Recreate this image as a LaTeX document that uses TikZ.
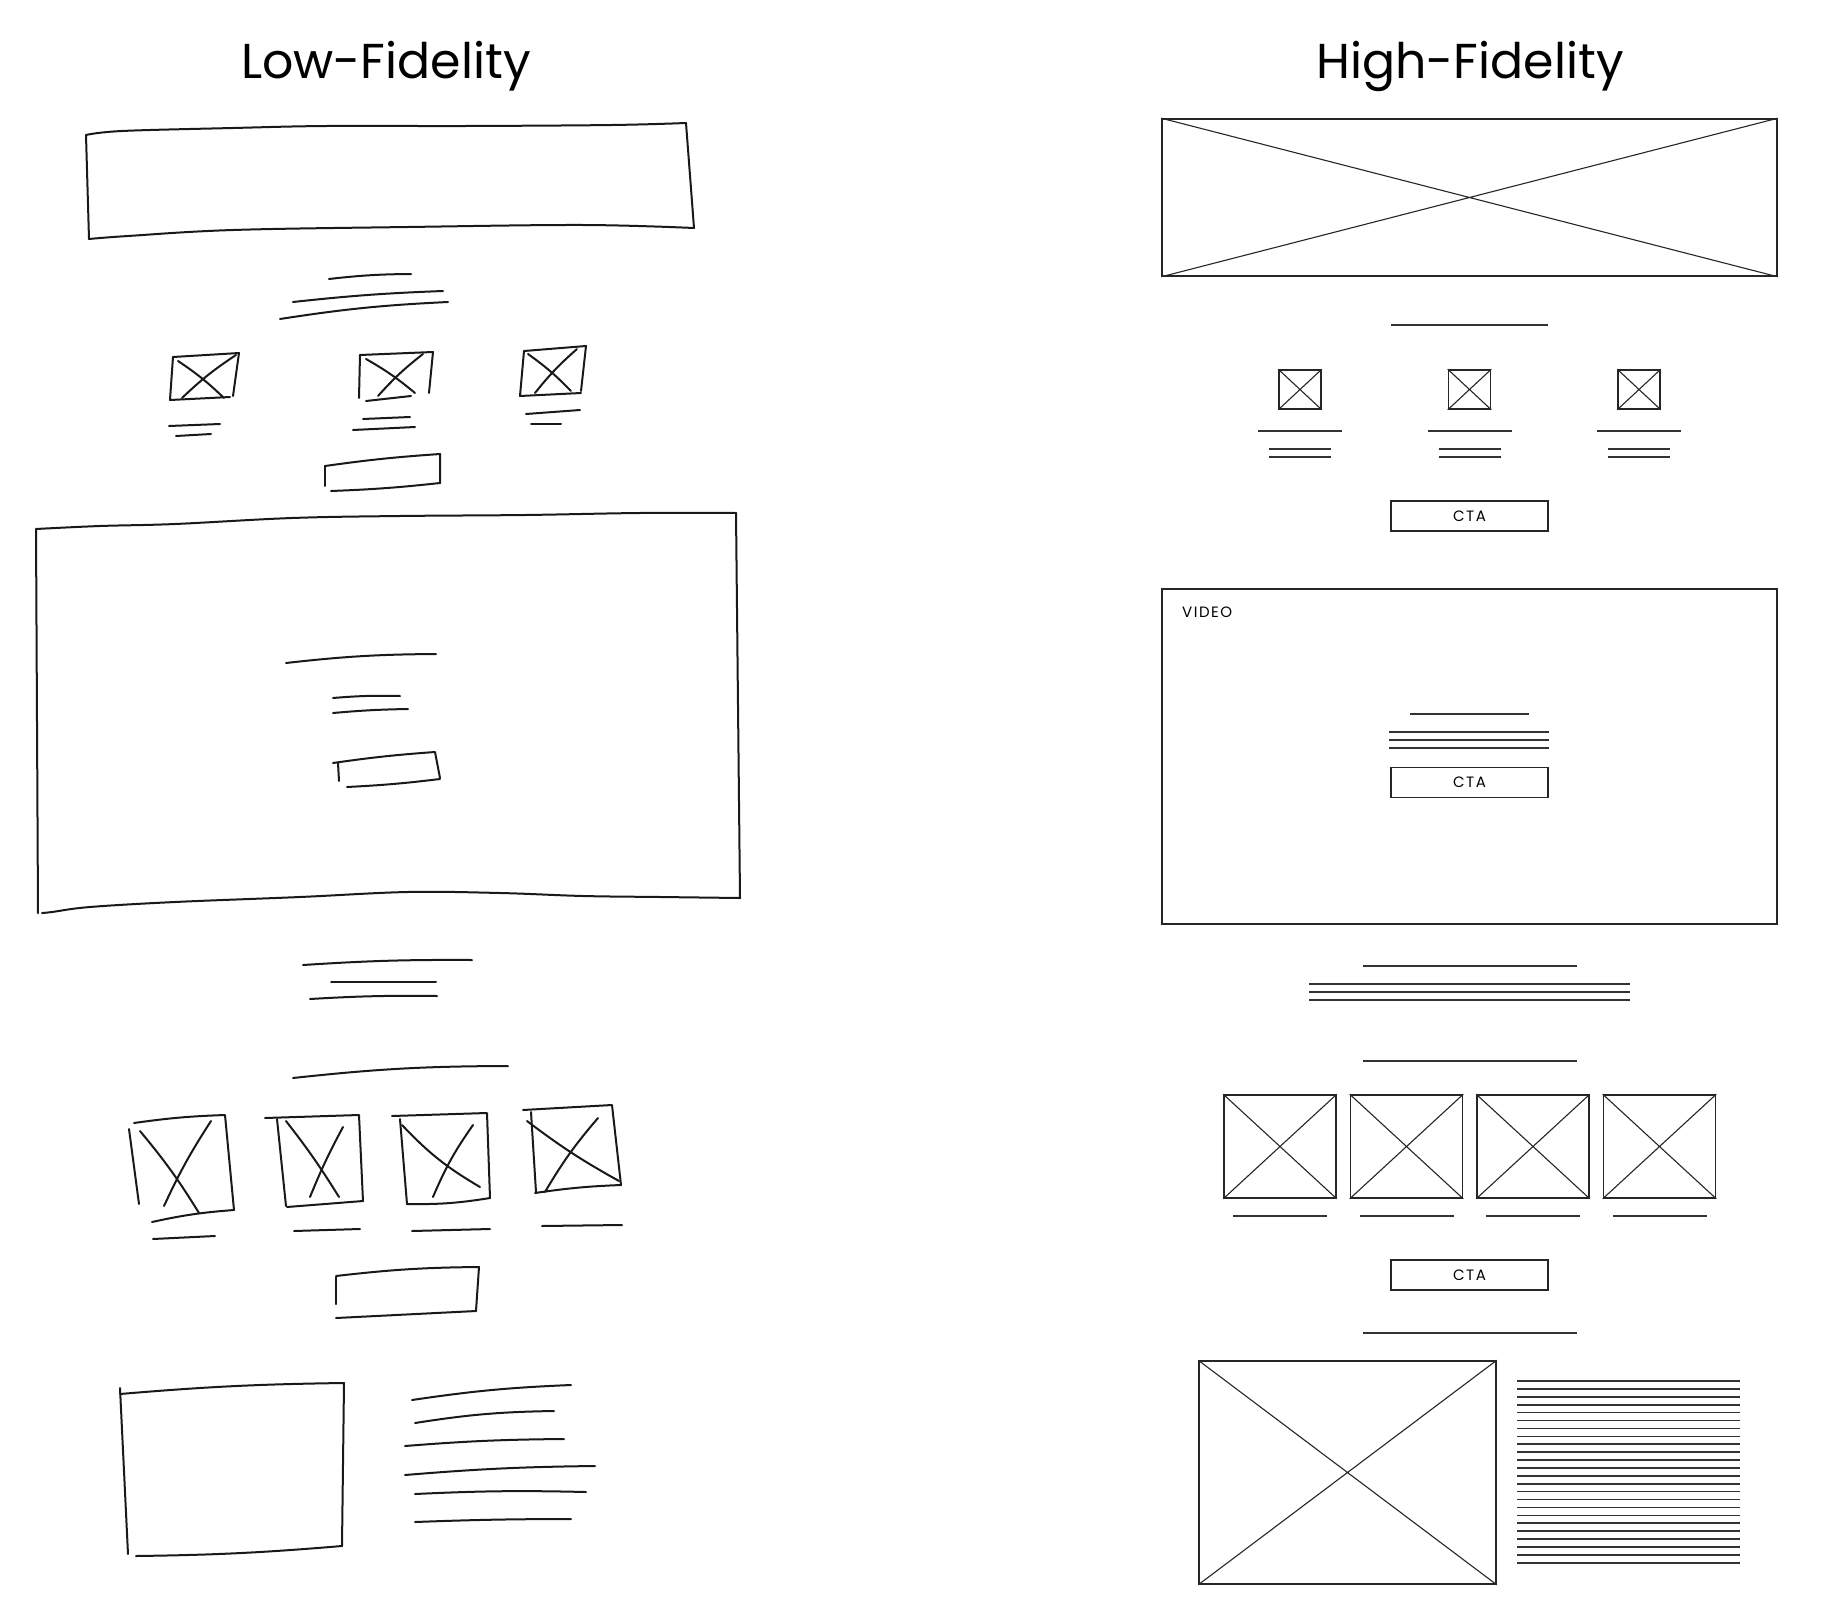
\documentclass[tikz,border=0pt]{standalone}
\usepackage{fontspec}
\setmainfont{Poppins}
\newfontfamily\uifont[LetterSpace=10]{Poppins}
\newcommand\hxbox[5]{%
  \node[hibox,minimum width=#4pt,minimum height=#5pt] (#1) at (#2,#3) {};
  \draw[xl] (#1.north west) -- (#1.south east) (#1.north east) -- (#1.south west);}
\newcommand\hln[3]{\draw[hl] (#1,#3) -- (#2,#3);}
\begin{document}
\begin{tikzpicture}[x=1pt,y=-1pt,
  sk/.style={line width=2.0pt,line cap=round,line join=round,draw=black!90},
  hibox/.style={draw=black!85,line width=1.6pt,inner sep=0pt,rectangle},
  xl/.style={line width=1.1pt,draw=black!85},
  hl/.style={line width=1.6pt,draw=black!80},
  cta/.style={hibox,minimum width=157pt,minimum height=30pt,font=\uifont\fontsize{15}{15}\selectfont},
  ttl/.style={anchor=base,inner sep=0pt,font=\fontsize{49}{50}\selectfont}]
\useasboundingbox[fill=white] (0,0) rectangle (1826,1600);

% ---------------- titles
\node[ttl] (lotitle) at (386,79) {Low-Fidelity};
\node[ttl] (hititle) at (1470,79) {High-Fidelity};

% ================= HIGH FIDELITY
\hxbox{banner}{1469.5}{197.5}{615}{157}
\hln{1391}{1548}{325}
\foreach \c [count=\k] in {1300,1469.5,1639}{
  \hxbox{sb\k}{\c}{389.5}{42}{39}
  \draw[hl] (\c-42,431) -- (\c+42,431);
  \draw[hl] (\c-31,449) -- (\c+31,449);
  \draw[hl] (\c-31,457) -- (\c+31,457);
}
\node[cta] (cta1) at (1469.5,516) {CTA};

\node[hibox,minimum width=615pt,minimum height=335pt] (video) at (1469.5,756.5) {};
\node[anchor=base west,inner sep=0pt,font=\uifont\fontsize{15}{15}\selectfont] (vidlabel) at (1182,617) {VIDEO};
\hln{1410}{1529}{714}
\hln{1389}{1549}{732}
\hln{1389}{1549}{740}
\hln{1389}{1549}{748}
\node[cta] (cta2) at (1469.5,782.5) {CTA};

\hln{1363}{1577}{966}
\hln{1309}{1630}{984}
\hln{1309}{1630}{992}
\hln{1309}{1630}{1000}

\hln{1363}{1577}{1061}
\foreach \c [count=\k] in {1280,1406.5,1533,1659.5}{
  \hxbox{gb\k}{\c}{1146.5}{112}{103}
  \draw[hl] (\c-47,1216) -- (\c+47,1216);
}
\node[cta] (cta3) at (1469.5,1275) {CTA};
\hln{1363}{1577}{1333}

\hxbox{bigimg}{1347.5}{1472.5}{297}{223}
\foreach \i in {0,...,23}{
  \draw[hl] (1517,{1381+7.9*\i}) -- (1740,{1381+7.9*\i});
}

% ================= LOW FIDELITY (sketch)
% banner
\draw[sk] plot[smooth,tension=0.6] coordinates {(86,135) (122,131) (233,128) (327,126) (466,126) (612,125) (686,123)};
\draw[sk] (686,123) -- (694,228);
\draw[sk] plot[smooth,tension=0.6] coordinates {(694,228) (583,225) (408,227) (233,230) (128,236) (89,239)};
\draw[sk] (86,135) -- (89,239);

% heading lines
\draw[sk] (329,279) to[bend left=3] (411,274);
\draw[sk] (293,302) to[bend left=2] (443,291);
\draw[sk] (280,319) to[bend left=3] (448,302);

% three small image boxes
\draw[sk] (173,357) -- (239,353) -- (233,396);
\draw[sk] (230,397) -- (170,400) -- (173,357);
\draw[sk] (178,361) to[bend left=5] (224,398);
\draw[sk] (236,355) to[bend right=5] (182,398);
\draw[sk] (169,426) -- (220,424);
\draw[sk] (176,436) -- (211,434);

\draw[sk] (360,355) -- (433,352) -- (429,393);
\draw[sk] (411,396) -- (366,401);
\draw[sk] (360,355) -- (359,398);
\draw[sk] (366,359) to[bend left=5] (415,393);
\draw[sk] (423,354) to[bend right=5] (378,396);
\draw[sk] (363,419) -- (410,417);
\draw[sk] (353,430) -- (415,427);

\draw[sk] (524,351) -- (586,346) -- (581,391);
\draw[sk] (581,393) -- (520,396) -- (524,351);
\draw[sk] (528,354) to[bend left=5] (571,391);
\draw[sk] (577,349) to[bend right=5] (535,393);
\draw[sk] (526,414) -- (580,410);
\draw[sk] (531,424) -- (561,424);

% small button
\draw[sk] (325,466) to[bend left=2] (440,454) -- (440,483);
\draw[sk] (440,483) to[bend left=2] (331,491);
\draw[sk] (325,466) -- (325,486);

% big hero box
\draw[sk] plot[smooth,tension=0.6] coordinates {(36,529) (100,526) (175,524) (292,518) (400,516) (525,515) (640,513) (736,513)};
\draw[sk] (736,513) -- (740,898);
\draw[sk] plot[smooth,tension=0.6] coordinates {(740,898) (660,897) (583,896) (500,893) (408,892) (300,897) (175,902) (90,907) (52,912) (42,913)};
\draw[sk] (36,529) -- (38,913);
\draw[sk] (286,663) to[bend left=3] (436,654);
\draw[sk] (333,698) to[bend left=3] (400,696);
\draw[sk] (333,713) to[bend left=2] (408,709);
\draw[sk] (333,763) to[bend left=2] (435,752) -- (440,778);
\draw[sk] (440,779) to[bend left=2] (347,787);
\draw[sk] (338,763) -- (339,781);

% lines under hero
\draw[sk] (303,965) to[bend left=2] (472,960);
\draw[sk] (331,982) -- (436,982);
\draw[sk] (310,999) to[bend left=2] (437,996);

% section heading
\draw[sk] (293,1078) to[bend left=3] (508,1066);

% four sketch image boxes
\draw[sk] (134,1123) to[bend left=3] (225,1115) -- (234,1210);
\draw[sk] (234,1210) to[bend right=4] (152,1222);
\draw[sk] (129,1129) -- (139,1204);
\draw[sk] (140,1131) to[bend left=4] (199,1213);
\draw[sk] (211,1121) to[bend right=4] (164,1206);
\draw[sk] (153,1239) -- (215,1236);

\draw[sk] (265,1118) -- (359,1115) -- (363,1201);
\draw[sk] (363,1201) -- (287,1207);
\draw[sk] (277,1119) -- (286,1206);
\draw[sk] (286,1121) to[bend left=3] (339,1197);
\draw[sk] (343,1127) to[bend right=3] (310,1197);
\draw[sk] (294,1231) -- (360,1229);

\draw[sk] (392,1116) -- (487,1113) -- (490,1198);
\draw[sk] (490,1198) to[bend left=5] (407,1204);
\draw[sk] (400,1119) -- (407,1204);
\draw[sk] (402,1125) to[bend right=8] (480,1187);
\draw[sk] (473,1125) to[bend right=6] (433,1197);
\draw[sk] (412,1231) -- (490,1229);

\draw[sk] (523,1110) -- (612,1105) -- (621,1185);
\draw[sk] (621,1185) to[bend right=3] (535,1193);
\draw[sk] (531,1112) -- (536,1192);
\draw[sk] (527,1121) to[bend right=4] (619,1181);
\draw[sk] (598,1118) to[bend right=5] (545,1192);
\draw[sk] (542,1226) -- (622,1225);

% button
\draw[sk] (336,1276) to[bend left=3] (479,1267) -- (476,1311);
\draw[sk] (476,1311) -- (336,1318);
\draw[sk] (336,1277) -- (336,1304);

% bottom image box + text lines
\draw[sk] (120,1394) to[bend left=2] (344,1383) -- (342,1546);
\draw[sk] (342,1546) to[bend left=2] (136,1556);
\draw[sk] (120,1388) -- (128,1554);
\draw[sk] (412,1400) to[bend left=3] (571,1385);
\draw[sk] (415,1423) to[bend left=4] (554,1411);
\draw[sk] (405,1446) to[bend left=2] (564,1439);
\draw[sk] (405,1475) to[bend left=2] (595,1466);
\draw[sk] (415,1494) to[bend left=2] (586,1492);
\draw[sk] (415,1522) to[bend left=1] (571,1519);
\end{tikzpicture}
\end{document}
